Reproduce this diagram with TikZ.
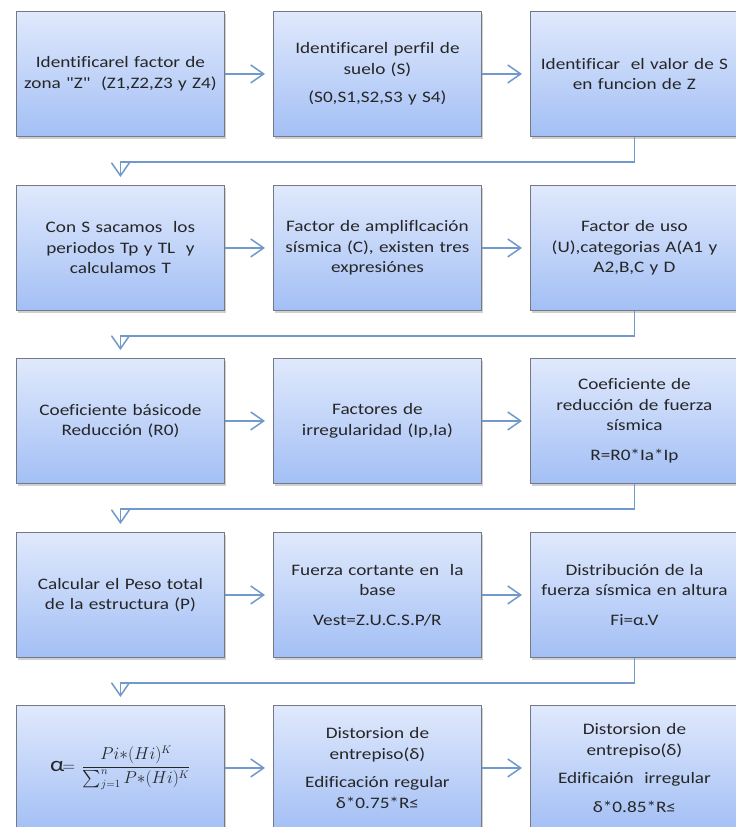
\documentclass[tikz,border=0pt]{standalone}
\usepackage{fontspec}
\usepackage{amsmath}
\newfontfamily\boxfont{Carlito}[FakeStretch=1.2, Ligatures=NoCommon]
\usetikzlibrary{arrows.meta,shadows}
\definecolor{boxtop}{HTML}{E0E9FC}
\definecolor{boxbot}{HTML}{A3BFF5}
\definecolor{boxline}{HTML}{737A86}
\definecolor{arrc}{HTML}{7199CB}
\definecolor{txtc}{HTML}{262626}
\tikzset{
  stepbox/.style={rectangle, anchor=north west, minimum width=208pt, minimum height=125pt,
    inner sep=0pt, text width=204pt, align=center, top color=boxtop, bottom color=boxbot,
    draw=boxline, line width=0.9pt, text=txtc,
    font=\boxfont\fontsize{16}{20.5}\selectfont,
    drop shadow={shadow xshift=2pt, shadow yshift=-3pt, opacity=0.3, fill=black!60}},
  conn/.style={draw=arrc, line width=1.5pt, line join=miter,
    -{Straight Barb[length=13pt,width=18pt]}, shorten >=8pt},
}
\begin{document}
\begin{tikzpicture}[x=1pt,y=-1pt]
\useasboundingbox[fill=white] (0,0) rectangle (736,827);
% row 1
\node[stepbox] (b11) at (16,11) {Identificarel factor de\\zona "Z" \ (Z1,Z2,Z3 y Z4)};
\node[stepbox] (b12) at (273,11) {Identificarel perfil de\\suelo (S)\\[8pt](S0,S1,S2,S3 y S4)};
\node[stepbox] (b13) at (530,11) {Identificar \ el valor de S\\en funcion de Z};
% row 2
\node[stepbox] (b21) at (16,185) {Con S sacamos \ los\\periodos Tp y TL \ y\\calculamos T};
\node[stepbox] (b22) at (273,185) {Factor de ampliflcación\\sísmica (C), existen tres\\expresiónes};
\node[stepbox] (b23) at (530,185) {Factor de uso\\(U),categorias A(A1 y\\A2,B,C y D};
% row 3
\node[stepbox] (b31) at (16,358) {Coeficiente básicode\\Reducción (R0)};
\node[stepbox] (b32) at (273,358) {Factores de\\irregularidad (Ip,Ia)};
\node[stepbox] (b33) at (530,358) {Coeficiente de\\reducción de fuerza\\sísmica\\[9pt]R=R0*Ia*Ip};
% row 4
\node[stepbox] (b41) at (16,532) {Calcular el Peso total\\de la estructura (P)};
\node[stepbox] (b42) at (273,532) {Fuerza cortante en \ la\\base\\[9pt]Vest=Z.U.C.S.P/R};
\node[stepbox] (b43) at (530,532) {Distribución de la\\fuerza sísmica en altura\\[9pt]Fi=α.V};
% row 5
\node[stepbox] (b51) at (16,705) {{\fontsize{21}{21}\selectfont α}$\mkern-2mu=\mkern-3mu\dfrac{Pi{\ast}(Hi)^{K}}{\sum_{j=1}^{n} P{\ast}(Hi)^{K}}$};
\node[stepbox] (b52) at (273,705) {Distorsion de\\entrepiso(δ)\\[8pt]Edificación regular\\δ*0.75*R≤};
\node[stepbox] (b53) at (530,705) {Distorsion de\\entrepiso(δ)\\[8pt]Edificaión \ irregular\\[8pt]δ*0.85*R≤};
% horizontal arrows
\foreach \r in {1,...,5}{
  \draw[conn] (b\r1.east) -- (b\r2.west);
  \draw[conn] (b\r2.east) -- (b\r3.west);
}
% row-to-row connectors
\foreach \r/\n in {1/2,2/3,3/4,4/5}{
  \draw[conn] (b\r3.south) -- ++(0,25) -| (b\n1.north);
}
\end{tikzpicture}
\end{document}
